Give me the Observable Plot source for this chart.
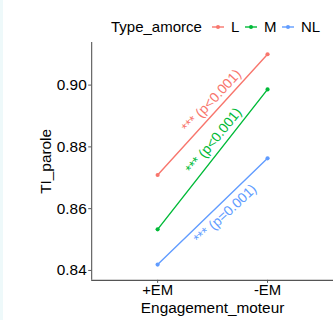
<!DOCTYPE html>
<html><head><meta charset="utf-8">
<script src="https://cdn.jsdelivr.net/npm/d3@7"></script>
<script src="https://cdn.jsdelivr.net/npm/@observablehq/plot@0.6"></script>
<style>
html,body{margin:0;padding:0;background:#fff;}
#wrap{position:relative;width:333px;height:320px;overflow:hidden;background:#fff;border-left:3px solid #eef9fa;box-sizing:border-box;}
#legend{position:absolute;left:0;top:0;width:333px;height:40px;font-family:"Liberation Sans",Arial,sans-serif;font-size:15px;color:#000;}
#plot{position:absolute;left:-3px;top:40px;}
.lg{position:absolute;white-space:nowrap;line-height:18px;}
</style></head>
<body><div id="wrap"><div id="legend"></div><div id="plot"></div></div>
<script>
const categories = ["+EM", "-EM"];
const groups = ["L", "M", "NL"];
const colors = ["#F8766D", "#00BA38", "#619CFF"];
const valuesL = [0.8709, 0.9100];
const valuesM = [0.8533, 0.8986];
const valuesNL = [0.8419, 0.8763];
const yTicks = [0.84, 0.86, 0.88, 0.90];
const labels = ["*** (p<0.001)", "*** (p<0.001)", "*** (p=0.001)"];
const labelX = [0.49, 0.51, 0.615];
const labelY = [0.8949, 0.8820, 0.8583];
const labelAngle = [-47, -51, -43];

const series = [valuesL, valuesM, valuesNL];
const data = [];
groups.forEach((g, gi) => series[gi].forEach((v, ci) => data.push({group: g, xi: ci, cat: categories[ci], y: v})));
const notes = groups.map((g, i) => ({group: g, x: labelX[i], y: labelY[i], text: labels[i], angle: labelAngle[i]}));

const font = '"Liberation Sans", Arial, sans-serif';
const plot = Plot.plot({
  width: 336, height: 280,
  marginLeft: 92, marginRight: 0, marginTop: 2, marginBottom: 38,
  style: {fontFamily: font, background: "transparent", overflow: "visible"},
  x: {domain: [-0.6, 1.6], ticks: [0, 1], tickFormat: d => categories[d], label: null},
  y: {domain: [0.8368, 0.9138], ticks: yTicks, tickFormat: d3.format(".2f"), label: null},
  color: {domain: groups, range: colors},
  marks: [
    Plot.ruleX([-0.6], {stroke: "#555", strokeWidth: 1.1}),
    Plot.ruleY([0.8368], {stroke: "#555", strokeWidth: 1.1}),
    Plot.axisY({ticks: yTicks, tickFormat: d3.format(".2f"), tickSize: 3, tickPadding: 2, stroke: "#555", fill: "#000", fontSize: 15.5, label: null}),
    Plot.axisX({ticks: [0, 1], tickFormat: d => categories[d], tickSize: 3, tickPadding: 1, stroke: "#555", fill: "#000", fontSize: 15, label: null}),
    Plot.text(["TI_parole"], {frameAnchor: "left", textAnchor: "middle", dx: -46, rotate: -90, fontSize: 15.5, fill: "#000"}),
    Plot.text(["Engagement_moteur"], {frameAnchor: "bottom", dy: 33, fontSize: 15.5, fill: "#000"}),
    Plot.line(data, {x: "xi", y: "y", z: "group", stroke: "group", strokeWidth: 1.4}),
    Plot.dot(data, {x: "xi", y: "y", fill: "group", r: 2.1}),
    Plot.text(notes, {x: "x", y: "y", text: "text", fill: "group", rotate: "angle", fontSize: 14})
  ]
});
document.getElementById("plot").appendChild(plot);

// legend
const lg = document.getElementById("legend");
let html = `<span class="lg" style="left:108px;top:18px">Type_amorce</span>`;
const keyX = [208, 241, 278];
groups.forEach((g, i) => {
  html += `<svg class="lg" style="left:${keyX[i]}px;top:21px" width="14" height="12"><line x1="1" x2="13" y1="6" y2="6" stroke="${colors[i]}" stroke-width="1.4"/><circle cx="7" cy="6" r="2" fill="${colors[i]}"/></svg>`;
  html += `<span class="lg" style="left:${keyX[i] + 20}px;top:18px">${g}</span>`;
});
lg.innerHTML = html;
</script>
</body></html>
